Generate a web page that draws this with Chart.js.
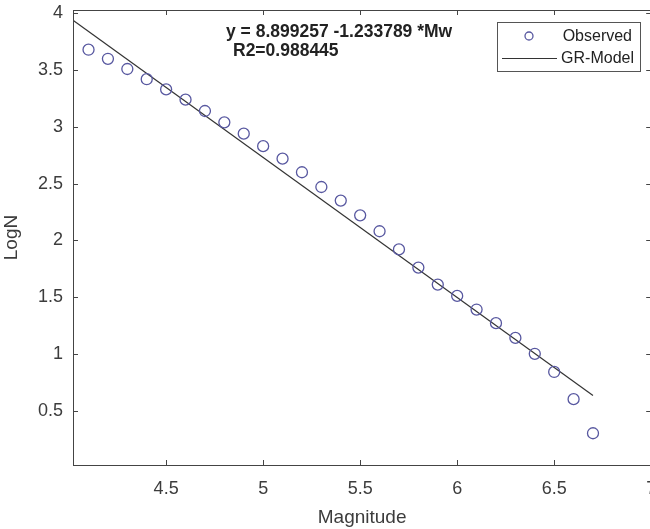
<!DOCTYPE html>
<html>
<head>
<meta charset="utf-8">
<script src="https://cdn.jsdelivr.net/npm/chart.js@4.4.0/dist/chart.umd.min.js"></script>
<style>
  html, body { margin: 0; padding: 0; background: #fff; overflow: hidden; }
  /* un poco más ancho que la ventana: el "7" queda cortado como en el original */
  #wrap { width: 658px; height: 529px; position: relative; }
</style>
</head>
<body>
<div id="wrap"><canvas id="grafico"></canvas></div>
<script>
// =====================
// Datos
// =====================
const magnitudes = [4.1, 4.2, 4.3, 4.4, 4.5, 4.6, 4.7, 4.8, 4.9, 5.0, 5.1, 5.2, 5.3, 5.4,
  5.5, 5.6, 5.7, 5.8, 5.9, 6.0, 6.1, 6.2, 6.3, 6.4, 6.5, 6.6, 6.7];
const logN = [3.68, 3.60, 3.51, 3.42, 3.33, 3.24, 3.14, 3.04, 2.94, 2.83, 2.72, 2.60, 2.47, 2.35,
  2.22, 2.08, 1.92, 1.76, 1.61, 1.51, 1.39, 1.27, 1.14, 1.00, 0.84, 0.60, 0.30];
const modeloX = [4.02, 6.7];
const modeloY = [3.94, 0.633];
const xTicks = [4.5, 5, 5.5, 6, 6.5, 7];
const yTicks = [0.5, 1, 1.5, 2, 2.5, 3, 3.5, 4];
const xMin = 4.02, xMax = 7, yMin = 0.02, yMax = 4.03;
const ecuacion = "y = 8.899257 -1.233789 *Mw";
const r2Texto = "R2=0.988445";

const fuente = "'Liberation Sans', Arial, sans-serif";
const colorTexto = "#3c3c3c";
const colorPuntos = "#5858a0";

// =====================
// Plugin: marco, ticks internos, texto y leyenda
// =====================
const marcoMatlab = {
  id: "marcoMatlab",
  afterDraw(chart) {
    const ctx = chart.ctx;
    const a = chart.chartArea;
    const sx = chart.scales.x, sy = chart.scales.y;
    ctx.save();
    ctx.strokeStyle = "#444";
    ctx.lineWidth = 1;
    ctx.strokeRect(a.left + 0.5, a.top + 0.5, a.right - a.left - 1, a.bottom - a.top);
    // ticks hacia dentro
    const largo = 5;
    ctx.beginPath();
    xTicks.forEach(v => {
      const px = Math.round(sx.getPixelForValue(v)) + 0.5;
      ctx.moveTo(px, a.bottom); ctx.lineTo(px, a.bottom - largo);
      ctx.moveTo(px, a.top); ctx.lineTo(px, a.top + largo);
    });
    yTicks.forEach(v => {
      const py = Math.round(sy.getPixelForValue(v)) + 0.5;
      ctx.moveTo(a.left, py); ctx.lineTo(a.left + largo, py);
      ctx.moveTo(a.right, py); ctx.lineTo(a.right - largo, py);
    });
    ctx.stroke();

    // ecuación
    ctx.fillStyle = "#222";
    ctx.font = "bold 17.5px " + fuente;
    ctx.textBaseline = "middle";
    ctx.textAlign = "left";
    ctx.fillText(ecuacion, 226, 32);
    ctx.fillText(r2Texto, 233, 51);

    // leyenda
    const lx = 497, ly = 22, lw = 143, lh = 49;
    ctx.fillStyle = "#fff";
    ctx.fillRect(lx, ly, lw, lh);
    ctx.strokeStyle = "#555";
    ctx.strokeRect(lx + 0.5, ly + 0.5, lw, lh);
    ctx.font = "16px " + fuente;
    ctx.fillStyle = "#222";
    ctx.textAlign = "right";
    const ds = chart.data.datasets;
    ctx.fillText(ds[0].label, lx + lw - 8, ly + 15);
    ctx.fillText(ds[1].label, lx + lw - 6, ly + 37);
    ctx.strokeStyle = colorPuntos;
    ctx.lineWidth = 1.3;
    ctx.beginPath();
    ctx.arc(lx + 32, ly + 14, 4, 0, Math.PI * 2);
    ctx.stroke();
    ctx.strokeStyle = "#333";
    ctx.lineWidth = 1;
    ctx.beginPath();
    ctx.moveTo(lx + 5, ly + 36.5);
    ctx.lineTo(lx + 60, ly + 36.5);
    ctx.stroke();
    ctx.restore();
  }
};

// =====================
// Gráfico
// =====================
const ctxGrafico = document.getElementById("grafico");
new Chart(ctxGrafico, {
  data: {
    datasets: [
      {
        type: "scatter",
        label: "Observed",
        data: magnitudes.map((m, i) => ({ x: m, y: logN[i] })),
        pointStyle: "circle",
        pointRadius: 5.5,
        pointHoverRadius: 5.5,
        borderColor: colorPuntos,
        backgroundColor: "rgba(0,0,0,0)",
        borderWidth: 1.3
      },
      {
        type: "line",
        label: "GR-Model",
        data: modeloX.map((m, i) => ({ x: m, y: modeloY[i] })),
        borderColor: "#333",
        borderWidth: 1.2,
        pointRadius: 0,
        fill: false
      }
    ]
  },
  options: {
    responsive: true,
    maintainAspectRatio: false,
    animation: false,
    layout: { padding: { top: 10, right: 1, left: 0, bottom: 0 } },
    plugins: {
      legend: { display: false },
      tooltip: { enabled: false }
    },
    scales: {
      x: {
        type: "linear",
        min: xMin,
        max: xMax,
        afterBuildTicks: s => { s.ticks = xTicks.map(v => ({ value: v })); },
        afterFit: s => { s.height = 64; },
        // marcas transparentes: solo separan las etiquetas del eje
        grid: { display: true, drawOnChartArea: false, drawTicks: true, tickLength: 13, tickColor: "rgba(0,0,0,0)" },
        border: { display: false },
        ticks: {
          color: colorTexto,
          font: { family: fuente, size: 18 },
          padding: 0,
          maxRotation: 0,
          autoSkip: false,
          callback: v => String(v)
        },
        title: {
          display: true,
          text: "Magnitude",
          color: colorTexto,
          font: { family: fuente, size: 19 },
          padding: { top: 0, bottom: 0 }
        }
      },
      y: {
        type: "linear",
        min: yMin,
        max: yMax,
        afterBuildTicks: s => { s.ticks = yTicks.map(v => ({ value: v })); },
        afterFit: s => { s.width = 73; s.paddingTop = 0; s.paddingBottom = 0; },
        grid: { display: false, drawTicks: false },
        border: { display: false },
        ticks: {
          color: colorTexto,
          font: { family: fuente, size: 18 },
          padding: 10,
          autoSkip: false,
          callback: v => String(v)
        },
        title: {
          display: true,
          text: "LogN",
          color: colorTexto,
          font: { family: fuente, size: 19 },
          padding: { top: 0, bottom: 0 }
        }
      }
    }
  },
  plugins: [marcoMatlab]
});
</script>
</body>
</html>
